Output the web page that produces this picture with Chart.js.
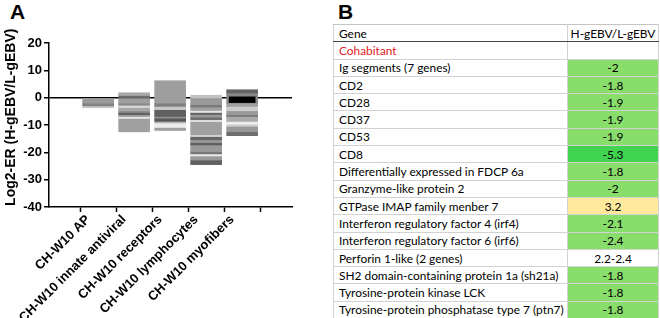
<!doctype html>
<html lang="en">
<head>
<meta charset="utf-8">
<title>Log2-ER chart</title>
<script src="https://cdn.jsdelivr.net/npm/chart.js"></script>
<style>
body { margin: 0; width: 660px; height: 318px; overflow: hidden; background: #fff; position: relative; font-family: "Liberation Sans", Arial, sans-serif; }
.panel { position: absolute; top: 0px; font-weight: bold; font-size: 21px; color: #000; }
#wrapA { position: absolute; left: 0; top: 0; width: 300px; height: 318px; }
#tableB { position: absolute; left: 333px; top: 24px; width: 325px; border-collapse: collapse; table-layout: fixed; font-family: Lato, "Noto Sans", sans-serif; font-size: 11.9px; color: #000; }
#tableB td { height: 17.3px; box-sizing: border-box; padding: 0 0 0 5px; border: 1px solid #d2d2d2; white-space: nowrap; overflow: hidden; }
#tableB td.val { text-align: center; padding: 0; }
#tableB tr.head td { border-top: 1px solid #c4c4c4; border-bottom: 1px solid #444; }
</style>
</head>
<body>
<div class="panel" style="left:10px">A</div>
<div class="panel" style="left:338px">B</div>
<div id="wrapA"><canvas id="chartA"></canvas></div>
<table id="tableB">
<colgroup><col style="width:234px"><col style="width:91px"></colgroup>
<tbody id="tbody"></tbody>
</table>

<script>
// panel A : categories
const categories = ['CH-W10 AP', 'CH-W10 innate antiviral', 'CH-W10 receptors', 'CH-W10 lymphocytes', 'CH-W10 myofibers'];

// stripe edges (top to bottom, Log2-ER) and grey level of each stripe
const apEdges = [0, -2, -3, -3.7];
const apShades = [155, 130, 200];

const innateEdges = [1.8, 0.8, -0.2, -2.0, -2.8, -3.6, -4.8, -5.4, -6.2, -6.9, -7.6, -12.5];
const innateShades = [168, 106, 158, 138, 216, 166, 140, 96, 154, 230, 160];

const receptorsEdges = [6.2, -2.0, -3.2, -4.4, -6.9, -7.5, -8.7, -9.3, -10.9, -12.0];
const receptorsShades = [158, 128, 200, 96, 144, 88, 187, 236, 160];

const lymphEdges = [0.9, -0.1, -2.6, -3.4, -4.7, -5.4, -6.2, -7.1, -8.1, -8.7, -13.6, -14.2, -15.4, -16.4, -17.3, -19.7, -20.6, -21.3, -22.8, -24.5];
const lymphShades = [192, 153, 120, 160, 232, 102, 153, 112, 238, 160, 221, 102, 153, 96, 154, 120, 238, 153, 96];

const myoEdges = [2.9, 1.7, -2.0, -3.2, -4.8, -6.2, -6.9, -8.7, -9.7, -10.5, -12.4, -13.9];
const myoShades = [100, 136, 160, 204, 153, 120, 170, 238, 204, 153, 110];
const myoHighlight = [0.3, -1.8];

// panel B : table
const genes = ['Cohabitant', 'Ig segments (7 genes)', 'CD2', 'CD28', 'CD37', 'CD53', 'CD8',
	'Differentially expressed in FDCP 6a', 'Granzyme-like protein 2', 'GTPase IMAP family menber 7',
	'Interferon regulatory factor 4 (irf4)', 'Interferon regulatory factor 6 (irf6)', 'Perforin 1-like (2 genes)',
	'SH2 domain-containing protein 1a (sh21a)', 'Tyrosine-protein kinase LCK', 'Tyrosine-protein phosphatase type 7 (ptn7)'];
const ratios = ['', '-2', '-1.8', '-1.9', '-1.9', '-1.9', '-5.3', '-1.8', '-2', '3.2', '-2.1', '-2.4', '2.2-2.4', '-1.8', '-1.8', '-1.8'];

function shade(g) { return 'rgb(' + g + ',' + g + ',' + g + ')'; }

// one floating bar per stripe
const groups = [[apEdges, apShades], [innateEdges, innateShades], [receptorsEdges, receptorsShades], [lymphEdges, lymphShades], [myoEdges, myoShades]];
let datasets = [];
datasets.push({ data: [{ x: 4, y: myoHighlight }], backgroundColor: '#000', barThickness: 26, grouped: false });
groups.forEach(function(g, ci) {
	const edges = g[0], shades = g[1];
	for (let k = 0; k < shades.length; k++) {
		datasets.push({ data: [{ x: ci, y: [edges[k], edges[k + 1]] }], backgroundColor: shade(shades[k]), barThickness: 31, grouped: false });
	}
});

new Chart(document.getElementById('chartA'), {
	type: 'bar',
	data: { datasets: datasets },
	options: {
		responsive: true,
		maintainAspectRatio: false,
		animation: false,
		layout: { padding: { top: 43, right: 8, left: 0, bottom: 0 } },
		plugins: { legend: { display: false }, tooltip: { enabled: false } },
		scales: {
			x: {
				type: 'linear',
				min: -0.69, max: 4.71,
				afterBuildTicks: function(s) { s.ticks = categories.map(function(c, i) { return { value: i }; }); },
				afterFit: function(s) { s.height = 111; },
				ticks: {
					callback: function(v) { return categories[v]; },
					autoSkip: false, maxRotation: 45, minRotation: 45, padding: 0, labelOffset: -10,
					color: '#000', font: { family: 'Liberation Sans', weight: 'bold', size: 13 }
				},
				grid: { drawOnChartArea: false, tickLength: 5, tickColor: '#000', tickWidth: 1.5 },
				border: { color: '#000', width: 1.5 }
			},
			y: {
				min: -40, max: 20,
				z: 1,
				afterFit: function(s) { s.width = 49; },
				ticks: { stepSize: 10, padding: 2, color: '#000', font: { family: 'Liberation Sans', weight: 'bold', size: 13 } },
				grid: {
					color: function(ctx) { return ctx.tick && ctx.tick.value === 0 ? '#000' : 'rgba(0,0,0,0)'; },
					lineWidth: 1.5, tickColor: '#000', tickLength: 5, tickWidth: 1.5
				},
				border: { color: '#000', width: 1.5 },
				// leading no-break spaces lift the centred title a little
				title: { display: true, text: '\u00a0\u00a0\u00a0\u00a0Log2-ER (H-gEBV/L-gEBV)', color: '#000', padding: { top: 3, bottom: 2 }, font: { family: 'Liberation Sans', weight: 'bold', size: 14 } }
			}
		}
	}
});

// table cell colour from the ratio
function fill(r) {
	if (r === '' || r.indexOf('-', 1) > 0) return '#fff';
	const v = parseFloat(r);
	if (v <= -5) return '#3fd350';
	if (v < 0) return '#89dd6b';
	return '#ffe99c';
}

let html = '<tr class="head"><td>Gene</td><td class="val">H-gEBV/L-gEBV</td></tr>';
for (let i = 0; i < genes.length; i++) {
	const red = i === 0 ? ' style="color:#e3201c"' : '';
	html += '<tr><td' + red + '>' + genes[i] + '</td><td class="val" style="background:' + fill(ratios[i]) + '">' + ratios[i] + '</td></tr>';
}
document.getElementById('tbody').innerHTML = html;
</script>
</body>
</html>
